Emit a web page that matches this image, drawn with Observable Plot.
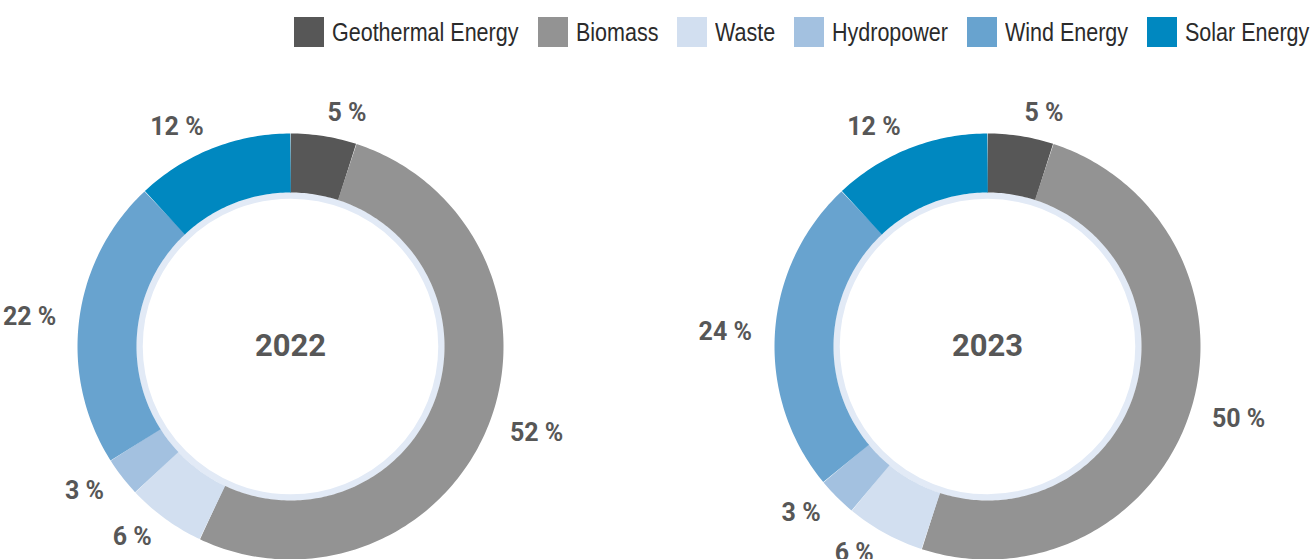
<!DOCTYPE html>
<html><head><meta charset="utf-8">
<script src="https://cdn.jsdelivr.net/npm/d3@7"></script>
<script src="https://cdn.jsdelivr.net/npm/@observablehq/plot@0.6"></script>
<style>
html,body{margin:0;padding:0;background:#fff;overflow:hidden;}
#legend{height:60px;display:flex;justify-content:flex-end;align-items:flex-start;padding-top:17px;box-sizing:border-box;padding-right:4px;font-family:"Liberation Sans",Arial,sans-serif;font-size:25px;color:#2b2b2b;}
.item{display:flex;align-items:center;margin-left:19px;height:30px;white-space:nowrap}
.sw{width:30px;height:30px;margin-right:8px;flex:none}
.tw{overflow:visible;height:30px;display:flex;align-items:center}
.tx{display:inline-block;transform-origin:0 50%;white-space:nowrap}
</style></head><body>
<div id="legend"></div><div id="chart"></div>
<script>
// ---- data ----
const categories = ["Geothermal Energy","Biomass","Waste","Hydropower","Wind Energy","Solar Energy"];
const colors = ["#575757","#939393","#d2dff0","#a3c1e0","#68a3cf","#0088c0"];
const years = ["2022","2023"];
const values2022 = [5,52,6,3,22,12];
const values2023 = [5,50,6,3,24,12];
const valuesByYear = {"2022": values2022, "2023": values2023};

// ---- layout ----
const W = 1314, H = 499;
const centerX = {"2022": 290, "2023": 987};
const centerY = 286;
const rOuter = 213, rInner = 154;
const rMid = (rOuter + rInner) / 2, band = rOuter - rInner;
const ringR = 151, ringW = 6.5;
const labelR = 236;
const legendSqueeze = 0.86;

// legend (condensed look)
const legend = document.getElementById("legend");
categories.forEach((c, i) => {
  const it = document.createElement("div"); it.className = "item";
  const sw = document.createElement("div"); sw.className = "sw"; sw.style.background = colors[i];
  const tw = document.createElement("div"); tw.className = "tw";
  const tx = document.createElement("span"); tx.className = "tx"; tx.textContent = c;
  tw.appendChild(tx);
  it.appendChild(sw); it.appendChild(tw); legend.appendChild(it);
  const w = tx.offsetWidth;
  tx.style.transform = `scaleX(${legendSqueeze})`;
  tw.style.width = (w * legendSqueeze) + "px";
});

// derived geometry from values
const arcPts = [], labels = [];
years.forEach(y => {
  const vals = valuesByYear[y];
  const total = d3.sum(vals);
  let acc = 0;
  vals.forEach((v, i) => {
    const a0 = acc / total * 2 * Math.PI, a1 = (acc + v) / total * 2 * Math.PI;
    const n = Math.max(2, Math.ceil(v / total * 360));
    for (let k = 0; k <= n; k++) {
      const a = a0 + (a1 - a0) * k / n;
      arcPts.push({key: y + i, year: y, category: categories[i], a, r: rMid});
    }
    const am = (a0 + a1) / 2;
    labels.push({year: y, category: categories[i], value: v, a: am, r: labelR, right: Math.sin(am) >= 0});
    acc += v;
  });
});
const px = d => centerX[d.year] + d.r * Math.sin(d.a);
const py = d => centerY - d.r * Math.cos(d.a);

const font = "Roboto, 'Liberation Sans', sans-serif";
const plot = Plot.plot({
  width: W, height: H,
  marginTop: 0, marginRight: 0, marginBottom: 0, marginLeft: 0,
  x: {domain: [0, W], range: [0, W], axis: null},
  y: {domain: [0, H], range: [0, H], axis: null},
  color: {domain: categories, range: colors},
  style: {background: "#fff", overflow: "visible"},
  marks: [
    Plot.dot(years, {x: d => centerX[d], y: () => centerY, r: ringR, stroke: "#e2eaf6", strokeWidth: ringW, fill: "none"}),
    Plot.line(arcPts, {x: px, y: py, z: "key", stroke: "category", strokeWidth: band, strokeLinecap: "butt", curve: "linear"}),
    Plot.text(labels.filter(d => d.right), {x: px, y: py, text: d => `${d.value} %`, textAnchor: "start", fill: "#575757", fontSize: 25, fontWeight: "bold", fontFamily: font}),
    Plot.text(labels.filter(d => !d.right), {x: px, y: py, text: d => `${d.value} %`, textAnchor: "end", fill: "#575757", fontSize: 25, fontWeight: "bold", fontFamily: font}),
    Plot.text(years, {x: d => centerX[d], y: () => centerY, text: d => d, fill: "#575757", fontSize: 31, fontWeight: "bold", fontFamily: font})
  ]
});
document.getElementById("chart").appendChild(plot);
</script>
</body></html>
